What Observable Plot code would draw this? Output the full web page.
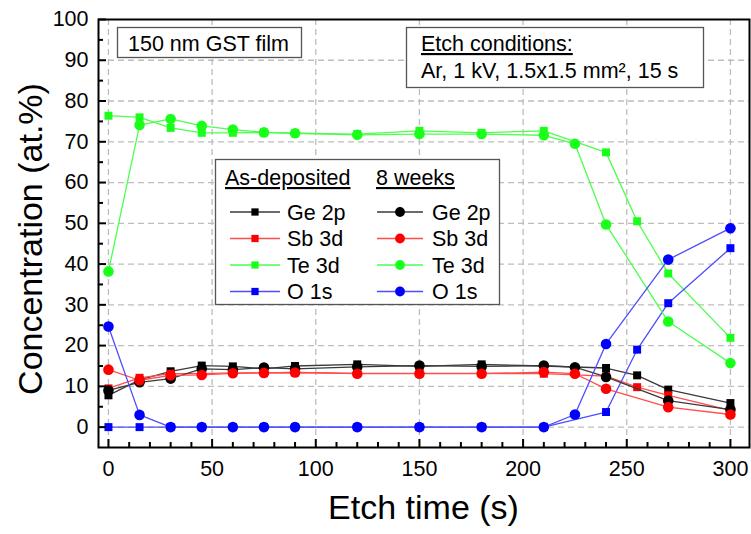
<!DOCTYPE html>
<html>
<head>
<meta charset="utf-8">
<script src="https://cdn.jsdelivr.net/npm/d3@7"></script>
<script src="https://cdn.jsdelivr.net/npm/@observablehq/plot@0.6"></script>
<style>
  body { margin: 0; background: #fff; }
  svg { display: block; }
</style>
</head>
<body>
<div id="chart"></div>
<script>
// XPS depth profile of a 150 nm GST film: as-deposited vs. after 8 weeks.
const elements = ["Ge 2p", "Sb 3d", "Te 3d", "O 1s"];
const markColors = ["#000000", "#ff0000", "#1aff1a", "#0000ff"];
const lineColors = ["#3a3a3a", "#ff4d4d", "#4dff4d", "#4d4dff"];
const groupNames = ["As-deposited", "8 weeks"];
const groupSymbols = ["square", "circle"];

// Etch times (s)
const timesAsDeposited = [0, 15, 30, 45, 60, 75, 90, 120, 150, 180, 210, 240, 255, 270, 300];
const times8Weeks      = [0, 15, 30, 45, 60, 75, 90, 120, 150, 180, 210, 225, 240, 270, 300];

// Concentrations (at.%) – as-deposited
const geAsDeposited = [7.8, 11.6, 13.7, 15.1, 14.9, 14.3, 15.0, 15.4, 14.9, 15.4, 15.0, 14.5, 12.7, 9.2, 5.9];
const sbAsDeposited = [9.5, 12.1, 13.1, 13.1, 13.3, 13.3, 13.4, 13.2, 13.2, 13.2, 13.1, 12.5, 9.8, 7.8, 4.1];
const teAsDeposited = [76.4, 76.0, 73.4, 72.2, 72.2, 72.3, 72.1, 71.9, 72.7, 72.2, 72.7, 67.4, 50.5, 37.7, 21.9];
const oAsDeposited  = [0, 0, 0, 0, 0, 0, 0, 0, 0, 0, 0, 3.7, 19.0, 30.4, 43.9];

// Concentrations (at.%) – after 8 weeks
const ge8Weeks = [9.0, 11.0, 11.9, 14.3, 14.1, 14.6, 14.3, 14.8, 15.1, 14.9, 15.1, 14.7, 12.3, 6.5, 4.3];
const sb8Weeks = [14.1, 11.5, 12.7, 12.8, 13.2, 13.3, 13.4, 13.1, 13.1, 13.1, 13.5, 13.1, 9.4, 4.9, 3.1];
const te8Weeks = [38.2, 74.1, 75.6, 73.9, 73.0, 72.3, 72.1, 71.7, 71.9, 71.9, 71.6, 69.5, 49.7, 25.9, 15.7];
const o8Weeks  = [24.7, 3.0, 0, 0, 0, 0, 0, 0, 0, 0, 0, 3.1, 20.4, 41.1, 48.8];

// Axis ticks
const xMajor = [0, 50, 100, 150, 200, 250, 300];
const xMinor = d3.range(10, 300, 10).filter(v => v % 50 !== 0);
const yMajor = [0, 10, 20, 30, 40, 50, 60, 70, 80, 90, 100];
const yMinor = [5, 15, 25, 35, 45, 55, 65, 75, 85, 95];
const yGrid  = [0, 10, 20, 30, 40, 50, 60, 70, 80, 90];

const groups = [
  {name: groupNames[0], symbol: groupSymbols[0], times: timesAsDeposited,
   values: [geAsDeposited, sbAsDeposited, teAsDeposited, oAsDeposited]},
  {name: groupNames[1], symbol: groupSymbols[1], times: times8Weeks,
   values: [ge8Weeks, sb8Weeks, te8Weeks, o8Weeks]}
];

const W = 751, H = 534;
const M = {top: 19, right: 2, bottom: 87, left: 98};
const plotW = W - M.left - M.right;
const plotH = H - M.top - M.bottom;
const FONT = "'Liberation Sans', Arial, Helvetica, sans-serif";
const symbolR = {square: 4.5, circle: 5.3};

const seriesMarks = [];
groups.forEach(g => {
  elements.forEach((el, i) => {
    const pts = g.times.map((t, j) => ({t, v: g.values[i][j]}));
    seriesMarks.push(Plot.line(pts, {x: "t", y: "v", stroke: lineColors[i], strokeWidth: 1.3}));
    seriesMarks.push(Plot.dot(pts, {x: "t", y: "v", symbol: () => g.symbol, r: symbolR[g.symbol],
      fill: markColors[i], stroke: "none"}));
  });
});

const chart = Plot.plot({
  width: W, height: H,
  marginTop: M.top, marginRight: M.right, marginBottom: M.bottom, marginLeft: M.left,
  style: {fontFamily: FONT, fontSize: "21.5px", color: "#000", background: "#fff"},
  x: {domain: [-4.8, 309.2], label: null},
  y: {domain: [-5, 100], label: null},
  symbol: {domain: groupSymbols, range: groupSymbols},
  marks: [
    Plot.gridX(xMajor, {stroke: "#bdbdbd", strokeOpacity: 1, strokeWidth: 1.3, strokeDasharray: "6,4"}),
    Plot.gridY(yGrid, {stroke: "#bdbdbd", strokeOpacity: 1, strokeWidth: 1.3, strokeDasharray: "6,4"}),
    ...seriesMarks,
    Plot.tickX(xMajor, {x: d => d, insetTop: plotH - 8, stroke: "#000", strokeWidth: 2}),
    Plot.tickX(xMinor, {x: d => d, insetTop: plotH - 5, stroke: "#000", strokeWidth: 2}),
    Plot.tickY(yMajor, {y: d => d, insetRight: plotW - 8, stroke: "#000", strokeWidth: 2}),
    Plot.tickY(yMinor, {y: d => d, insetRight: plotW - 5, stroke: "#000", strokeWidth: 2}),
    Plot.axisX(xMajor, {tickSize: 0, tickPadding: 13, fontSize: 21.5, label: null}),
    Plot.axisY(yMajor, {tickSize: 0, tickPadding: 10, fontSize: 21.5, label: null}),
    Plot.frame({stroke: "#000", strokeWidth: 2})
  ]
});

document.getElementById("chart").append(chart);

// Annotations: axis titles, info boxes and the two-column legend
const svg = d3.select(chart);
const txt = (g, x, y, s, size = 21.5) => g.append("text")
  .attr("x", x).attr("y", y).attr("font-family", FONT).attr("font-size", size)
  .attr("text-anchor", "start").attr("fill", "#000").text(s);

txt(svg, M.left + plotW / 2, 519, "Etch time (s)", 34).attr("text-anchor", "middle");
txt(svg, 0, 0, "Concentration (at.%)", 34)
  .attr("text-anchor", "middle").attr("transform", "translate(42,239) rotate(-90)");

const box = (x, y, w, h) => svg.append("rect")
  .attr("x", x).attr("y", y).attr("width", w).attr("height", h)
  .attr("fill", "#fff").attr("stroke", "#555").attr("stroke-width", 1.3);

box(117.5, 27.5, 184, 30);
txt(svg, 128, 51, "150 nm GST film");

box(406.5, 27.5, 297, 60);
txt(svg, 421, 51, "Etch conditions:").attr("text-decoration", "underline");
txt(svg, 421, 78, "Ar, 1 kV, 1.5x1.5 mm², 15 s");

box(215.5, 159.5, 284, 145);
const legend = svg.append("g");
const colHeaderX = [225, 376];
const colLineX = [[230, 280], [377, 423]];
const colMarkX = [255, 400];
const colTextX = [287, 432];
const rowY = [212, 238.5, 265, 291.5];
groups.forEach((g, c) => {
  txt(legend, colHeaderX[c], 185, g.name).attr("text-decoration", "underline");
  elements.forEach((el, i) => {
    legend.append("line")
      .attr("x1", colLineX[c][0]).attr("x2", colLineX[c][1])
      .attr("y1", rowY[i]).attr("y2", rowY[i])
      .attr("stroke", lineColors[i]).attr("stroke-width", 1.3);
    const sym = g.symbol === "square" ? d3.symbolSquare : d3.symbolCircle;
    const r = symbolR[g.symbol] - 0.4;
    legend.append("path")
      .attr("d", d3.symbol(sym, Math.PI * r * r)())
      .attr("transform", `translate(${colMarkX[c]},${rowY[i]})`)
      .attr("fill", markColors[i]);
    txt(legend, colTextX[c], rowY[i] + 7.7, el);
  });
});
</script>
</body>
</html>
